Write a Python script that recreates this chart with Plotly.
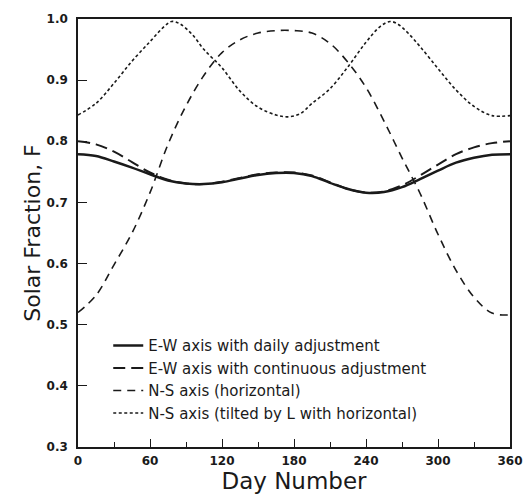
import plotly.graph_objects as go

# Day numbers and solar fractions
days = [0, 15, 30, 45, 60, 75, 90, 105, 120, 135, 150, 165, 180, 195, 210,
        225, 240, 255, 270, 285, 300, 315, 330, 345, 360]

ew_daily = [0.779, 0.776, 0.767, 0.757, 0.746, 0.736, 0.731, 0.730, 0.733, 0.739,
            0.745, 0.748, 0.748, 0.743, 0.732, 0.722, 0.716, 0.717, 0.725, 0.738,
            0.752, 0.765, 0.773, 0.778, 0.779]

ew_continuous = [0.800, 0.795, 0.783, 0.766, 0.749, 0.737, 0.731, 0.730, 0.734, 0.740,
                 0.746, 0.749, 0.749, 0.744, 0.733, 0.722, 0.716, 0.718, 0.728, 0.744,
                 0.762, 0.779, 0.790, 0.797, 0.800]

ns_horizontal = [0.520, 0.548, 0.598, 0.650, 0.716, 0.795, 0.858, 0.908, 0.945, 0.966,
                 0.977, 0.981, 0.981, 0.977, 0.960, 0.929, 0.888, 0.833, 0.773, 0.715,
                 0.648, 0.589, 0.545, 0.519, 0.516]

days_tilted = [0, 15, 30, 45, 60, 72, 78, 85, 95, 105, 120, 135, 150, 165, 175, 185,
               195, 210, 225, 240, 252, 260, 267, 275, 285, 300, 315, 330, 345, 360]
ns_tilted = [0.843, 0.862, 0.895, 0.931, 0.963, 0.988, 0.996, 0.992, 0.975, 0.950,
             0.920, 0.882, 0.856, 0.843, 0.840, 0.845, 0.862, 0.886, 0.922, 0.962,
             0.988, 0.996, 0.991, 0.977, 0.955, 0.919, 0.884, 0.857, 0.842, 0.842]

names = ["E-W axis with daily adjustment",
         "E-W axis with continuous adjustment",
         "N-S axis (horizontal)",
         "N-S axis (tilted by L with horizontal)"]

x_ticks = [0, 60, 120, 180, 240, 300, 360]
y_ticks = [0.3, 0.4, 0.5, 0.6, 0.7, 0.8, 0.9, 1.0]

ink = "#1a1a1a"
fig = go.Figure()
fig.add_trace(go.Scatter(x=days, y=ew_daily, name=names[0], mode="lines",
                         line=dict(color=ink, width=2.5, shape="spline")))
fig.add_trace(go.Scatter(x=days, y=ew_continuous, name=names[1], mode="lines",
                         line=dict(color=ink, width=2, dash="12px,6px", shape="spline")))
fig.add_trace(go.Scatter(x=days, y=ns_horizontal, name=names[2], mode="lines",
                         line=dict(color=ink, width=1.6, dash="8px,6px", shape="spline")))
fig.add_trace(go.Scatter(x=days_tilted, y=ns_tilted, name=names[3], mode="lines",
                         line=dict(color=ink, width=1.6, dash="3px,2.5px", shape="spline")))

axis_common = dict(showline=True, linecolor=ink, linewidth=1.5, mirror=True,
                   showgrid=False, zeroline=False, ticks="inside", tickcolor=ink,
                   tickwidth=1.3, automargin=False, ticklabeloverflow="allow",
                   tickfont=dict(family="DejaVu Sans", size=12, color=ink, weight="bold"))

fig.update_xaxes(range=[0, 360], tickvals=x_ticks, ticklen=8, ticklabelstandoff=2,
                 minor=dict(dtick=30, tick0=0, ticks="inside", ticklen=5,
                            tickcolor=ink, tickwidth=1.3),
                 title=dict(text="Day Number", standoff=2,
                            font=dict(family="DejaVu Sans", size=23, color=ink)),
                 **axis_common)
fig.update_yaxes(range=[0.3, 1.0], tickvals=y_ticks, tickformat=".1f", ticklen=9,
                 ticklabelstandoff=6,
                 title=dict(text="Solar Fraction, F", standoff=0,
                            font=dict(family="DejaVu Sans", size=22, color=ink)),
                 **axis_common)

fig.update_layout(
    width=524, height=494,
    margin=dict(l=78, r=14, t=19, b=47),
    paper_bgcolor="white", plot_bgcolor="white",
    showlegend=True,
    legend=dict(x=0.07, y=0.275, xanchor="left", yanchor="top",
                bgcolor="rgba(0,0,0,0)", tracegroupgap=0,
                font=dict(family="DejaVu Sans", size=15, color=ink)),
)

# remove the default page margin so the 524x494 figure fills the window exactly
fig.write_html("out.html",
               config={"displayModeBar": False},
               post_script="document.body.style.margin='0';"
                           "document.body.style.overflow='hidden';")
